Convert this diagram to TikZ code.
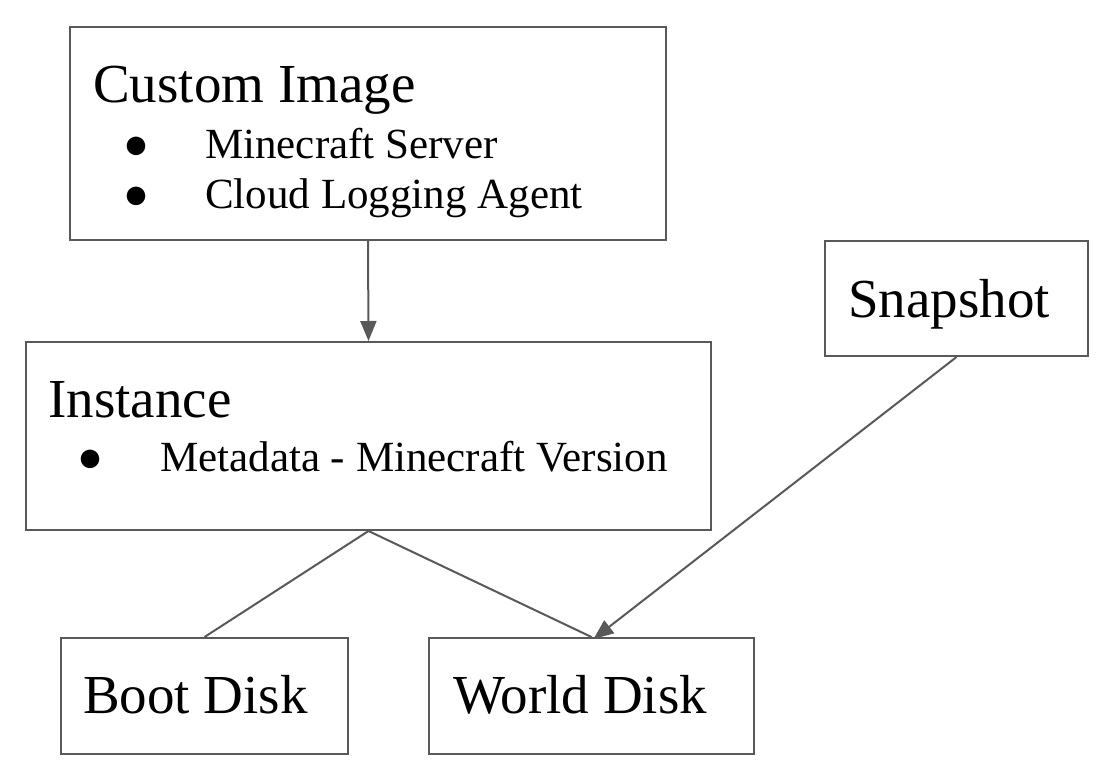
\documentclass[tikz,border=0pt]{standalone}
\usepackage{fontspec}
\setmainfont{Liberation Serif}
\usetikzlibrary{arrows.meta}
\definecolor{edge}{HTML}{595959}
\begin{document}
\begin{tikzpicture}[x=1pt,y=-1pt,
  box/.style={draw=edge, line width=2pt, inner sep=0, anchor=north west},
  title/.style={inner sep=0, anchor=base west, font=\fontsize{55}{60}\selectfont},
  item/.style={inner sep=0, anchor=base west, font=\fontsize{43}{48}\selectfont},
  dot/.style={inner sep=0, anchor=base, font=\fontsize{43}{48}\selectfont}]
\useasboundingbox (0,0) rectangle (1110,774);

\node[box, minimum width=596pt, minimum height=213pt] (image) at (69,26) {};
\node[box, minimum width=685pt, minimum height=188pt] (inst) at (25,341) {};
\node[box, minimum width=263pt, minimum height=115pt] (snap) at (824,240) {};
\node[box, minimum width=287pt, minimum height=116pt] (boot) at (60,637) {};
\node[box, minimum width=325pt, minimum height=116pt] (world) at (428,637) {};

\node[title] (imagetxt) at (93,102) {Custom Image};
\node[dot] (b1) at (136,158) {●};
\node[item] (server) at (205,158) {Minecraft Server};
\node[dot] (b2) at (136,208) {●};
\node[item] (agent) at (205,208) {Cloud Logging Agent};

\node[title] (insttxt) at (48,417) {Instance};
\node[dot] (b3) at (90,471) {●};
\node[item] (meta) at (160,471) {Metadata - Minecraft Version};

\node[title] (snaptxt) at (848,317) {Snapshot};
\node[title] (boottxt) at (83,713) {Boot Disk};
\node[title] (worldtxt) at (453,713) {World Disk};

\path[draw=edge, line width=2pt, -{Triangle[length=20pt,width=16pt]}] (image.south) -- (inst.north);
\path[draw=edge, line width=2pt] (inst.south) -- (boot.north);
\path[draw=edge, line width=2pt] (inst.south) -- (world.north);
\path[draw=edge, line width=2pt, -{Triangle[length=20pt,width=16pt]}] (snap.south) -- ([xshift=2pt,yshift=-2pt]world.north);
\end{tikzpicture}
\end{document}
